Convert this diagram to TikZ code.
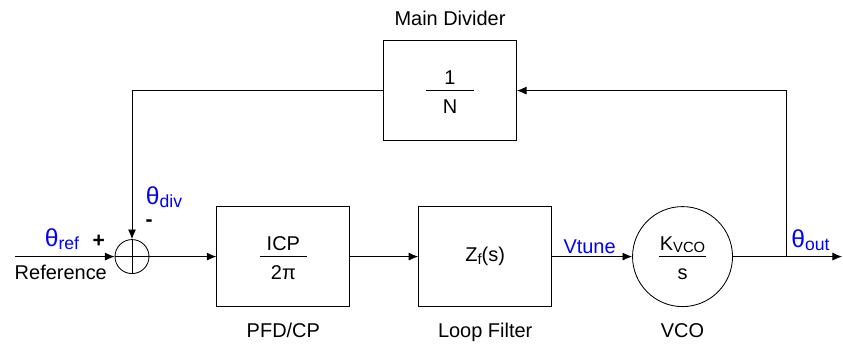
\documentclass[tikz,border=0pt]{standalone}
\usepackage{fontspec}
\setmainfont{Liberation Sans}
\usepackage{tikz}
\usetikzlibrary{positioning, arrows.meta, calc}
\definecolor{signalblue}{RGB}{0, 0, 255}

\newcommand{\blockfrac}[2]{\setlength{\tabcolsep}{0pt}\setlength{\arrayrulewidth}{0.6pt}\begin{tabular}{c}\rule{0pt}{16.5pt}\makebox[1.18cm]{#1}\\[-0.5pt]\hline\rule{0pt}{16pt}#2\end{tabular}}
\newcommand{\phase}[1]{{\fontsize{17.5}{20}\selectfont θ}\raisebox{-2.5pt}{\fontsize{12.5}{14}\selectfont #1}}
\newcommand{\lowsub}[1]{\raisebox{-2pt}{\fontsize{10.5}{12}\selectfont #1}}

\begin{document}
\begin{tikzpicture}[node distance=1.7cm, >={Latex[length=2.4mm, width=2mm]},
    block/.style={rectangle, draw, line width=0.6pt, minimum width=3.325cm, minimum height=2.5cm, inner sep=0pt, font=\fontsize{14.2}{16}\selectfont},
    vcoblock/.style={circle, draw, line width=0.6pt, minimum size=2.5cm, inner sep=0pt, font=\fontsize{14.2}{16}\selectfont},
    sumblock/.style={circle, draw, line width=0.6pt, minimum size=0.85cm, inner sep=0pt},
    caption/.style={font=\fontsize{14.2}{16}\selectfont},
    polarity/.style={font=\fontsize{15}{17}\selectfont\bfseries},
    signal/.style={text=signalblue, font=\fontsize{14.2}{16}\selectfont, inner sep=1pt},
    wire/.style={line width=0.6pt},
    arrow/.style={wire, ->}]

    \useasboundingbox (0,0) rectangle (21.075,8.725);

    % Forward path
    \node[sumblock] (sum) at (3.3,2.31) {};
    \node[block, right=1.675cm of sum] (pfd) {\blockfrac{ICP}{2π}};
    \node[block, right=1.7cm of pfd] (filter) {Z\lowsub{f}(s)};
    \node[vcoblock, right=2cm of filter] (vco) {\blockfrac{K\lowsub{VCO}}{s}};

    % Feedback divider
    \node[block] (divider) at (11.25,6.46) {\blockfrac{1}{N}};

    % Captions
    \node[caption, above=0.24cm of divider] (divlabel) {Main Divider};
    \node[caption, below=0.28cm of pfd] (pfdlabel) {PFD/CP};
    \node[caption, below=0.28cm of filter] (filterlabel) {Loop Filter};
    \node[caption, below=0.28cm of vco] (vcolabel) {VCO};

    % Signal labels
    \node[caption] (reflabel) at (1.52,1.92) {Reference};
    \node[signal] (thref) at (1.55,2.75) {\phase{ref}};
    \node[polarity] (plus) at (2.47,2.7) {+};
    \node[polarity] (minus) at (3.73,3.15) {-};
    \node[signal] (thdiv) at (4.1,3.8) {\phase{div}};
    \node[signal] (vtune) at (14.74,2.56) {Vtune};
    \node[signal] (thout) at (20.26,2.72) {\phase{out}};

    % Connections
    \coordinate (in) at (0.375,2.31);
    \coordinate[right=1.3375cm of vco] (branch);
    \coordinate (out) at (21.05,2.31);

    \draw[arrow] (in) -- (sum);
    \draw[arrow] (sum) -- (pfd);
    \draw[arrow] (pfd) -- (filter);
    \draw[arrow] (filter) -- (vco);
    \draw[arrow] (vco) -- (out);
    \draw[arrow] (branch) |- (divider);
    \draw[arrow] (divider) -| (sum);
    \draw[wire] (sum.west) -- (sum.east);
    \draw[wire] (sum.north) -- (sum.south);
\end{tikzpicture}
\end{document}
